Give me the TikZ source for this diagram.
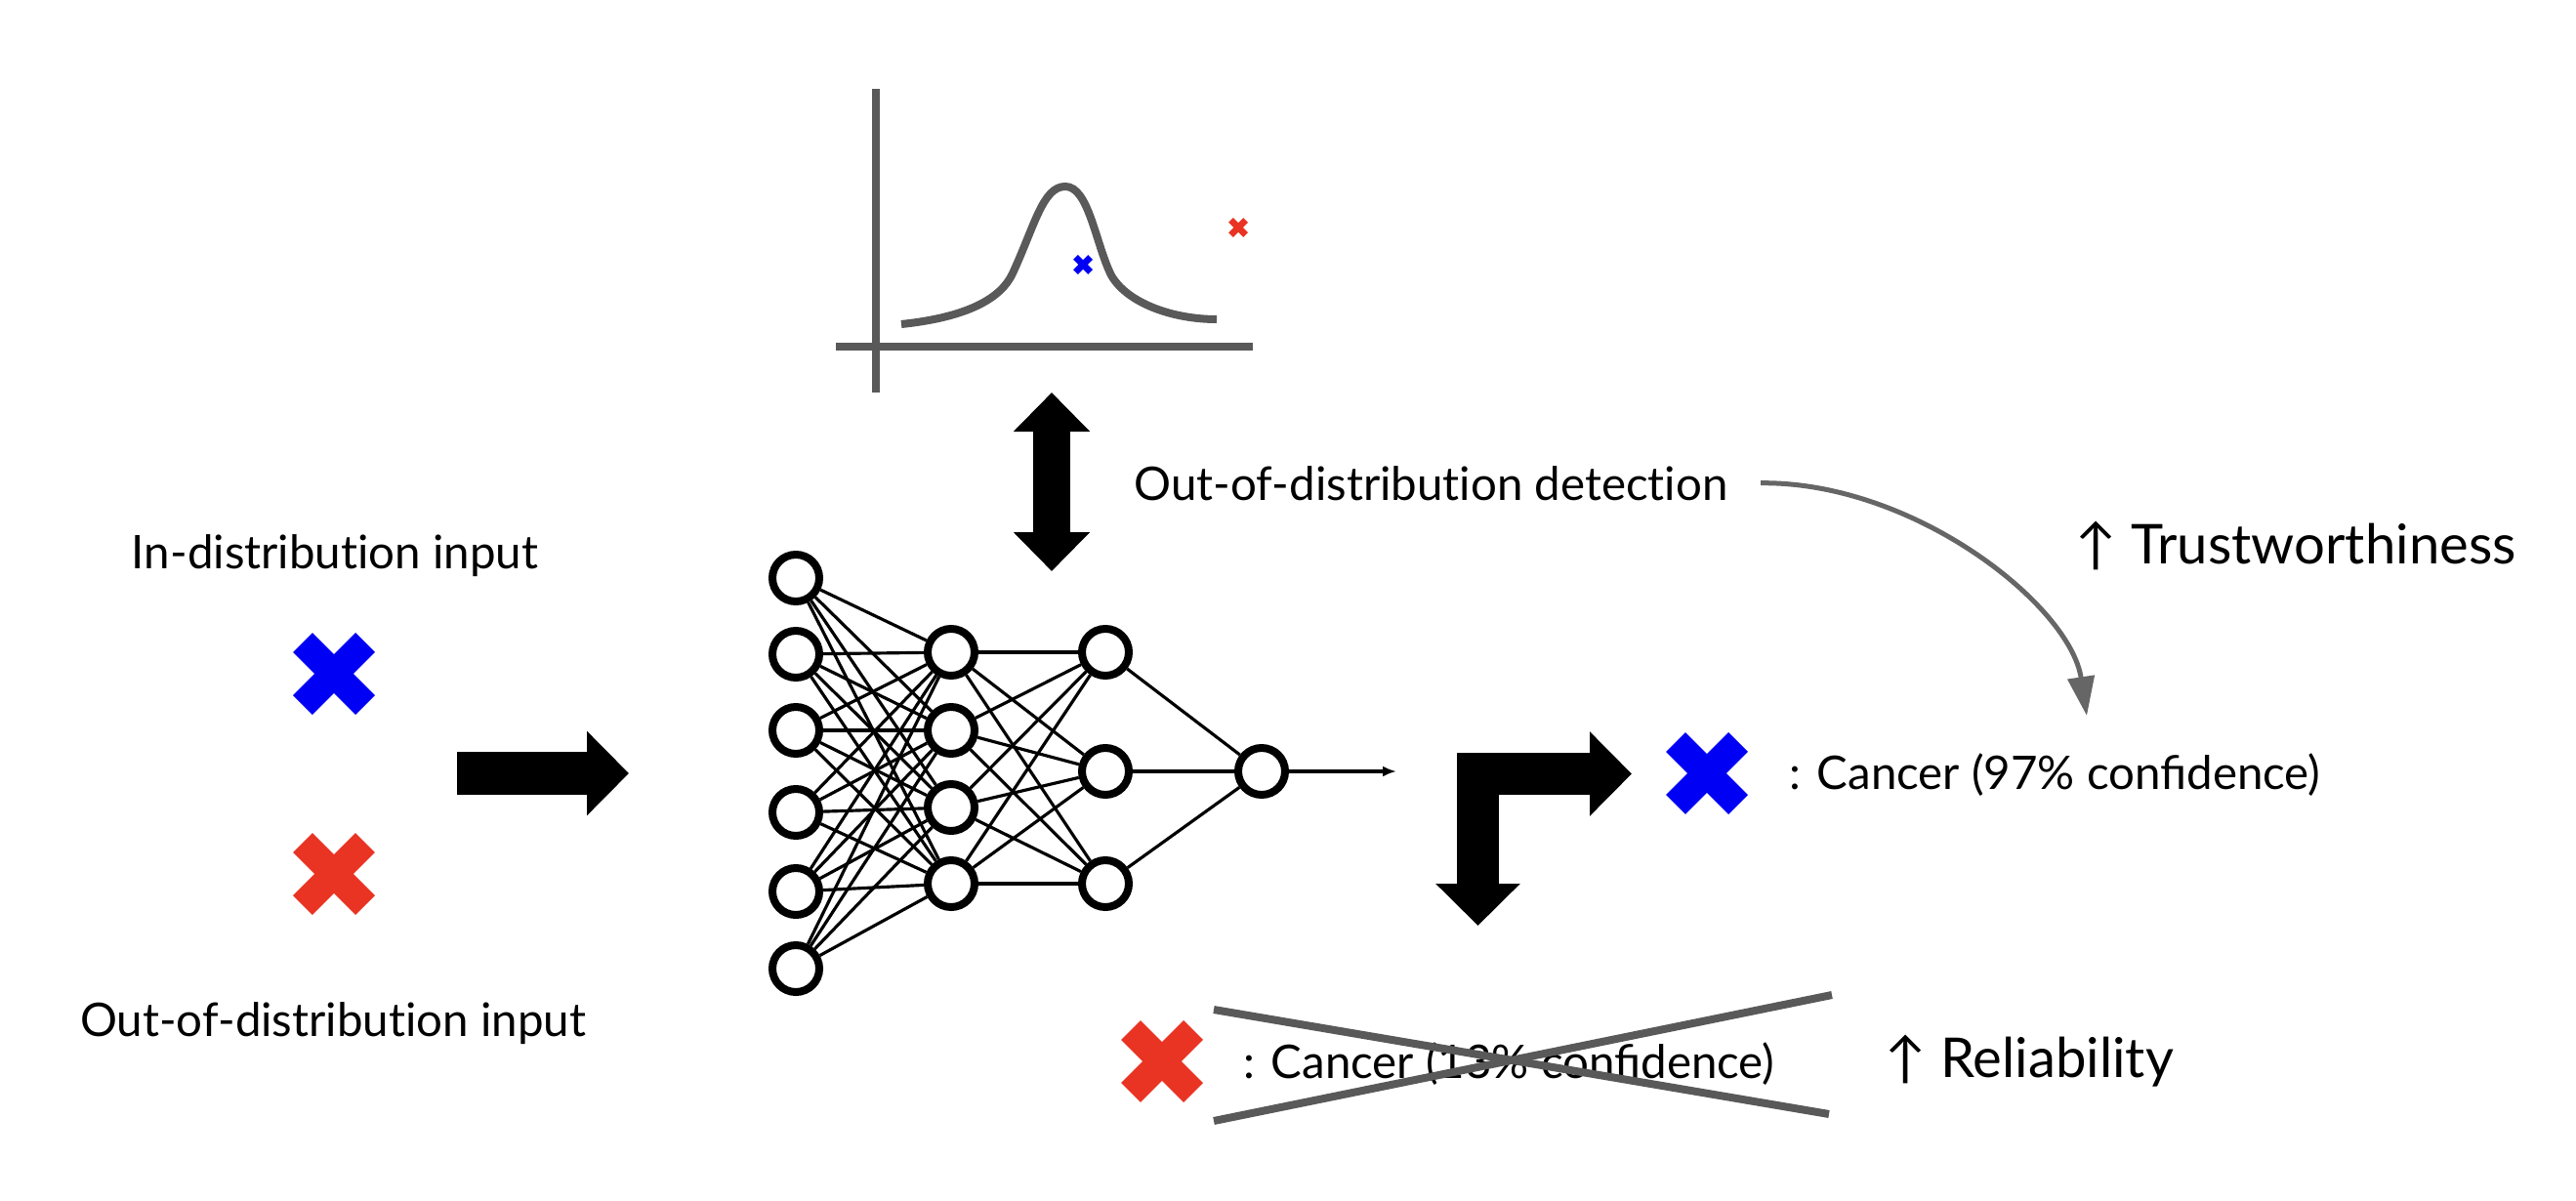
\documentclass[tikz,border=0pt]{standalone}
\usepackage{fontspec}
\setmainfont{Lato}
\usetikzlibrary{arrows.meta,shapes.misc}
\definecolor{xblue}{RGB}{0,0,245}
\definecolor{xred}{RGB}{233,52,36}
\definecolor{plotgray}{RGB}{89,89,89}
\definecolor{linkgray}{RGB}{102,102,102}
\newcommand{\gainarrow}{↑}
\newcommand{\nolig}{\kern0pt}

\tikzset{
  neuron/.style={circle, draw, line width=0.08cm, fill=white, minimum size=0.48cm, inner sep=0},
  synapse/.style={line width=0.9pt},
  bigcross/.style={cross out, line width=0.28cm, minimum size=0.64cm, inner sep=0, outer sep=0},
  smallcross/.style={cross out, line width=0.067cm, minimum size=0.152cm, inner sep=0, outer sep=0},
  blockarrow/.style={line width=0.44cm, -{Triangle[length=0.43cm, width=0.84cm]}},
  plotline/.style={draw=plotgray, line width=0.08cm},
  smalltext/.style={font=\fontsize{13.5}{16}\selectfont, inner sep=0},
  resulttext/.style={font=\fontsize{13.5}{16}\selectfont, inner sep=0},
  gaintext/.style={font=\fontsize{16}{19}\selectfont, inner sep=0}
}

\begin{document}
\begin{tikzpicture}
\useasboundingbox (0,0) rectangle (26.38,-12.30);

% inputs
\node[smalltext, anchor=base] (in-text) at (3.43,-5.82) {In-distribut\nolig ion input};
\node[bigcross, draw=xblue] (in-x) at (3.42,-6.90) {};
\node[bigcross, draw=xred] (ood-x) at (3.42,-8.95) {};
\node[smalltext, anchor=base] (ood-text) at (3.41,-10.61) {Out-of-distribut\nolig ion input};

\coordinate (feed-start) at (4.68,-7.92);
\coordinate (feed-end) at (6.44,-7.92);
\draw[blockarrow] (feed-start) -- (feed-end);

% network
\node[neuron] (l1-1) at (8.15,-5.92) {};
\node[neuron] (l1-2) at (8.15,-6.70) {};
\node[neuron] (l1-3) at (8.15,-7.48) {};
\node[neuron] (l1-4) at (8.15,-8.32) {};
\node[neuron] (l1-5) at (8.15,-9.13) {};
\node[neuron] (l1-6) at (8.15,-9.92) {};
\node[neuron] (l2-1) at (9.74,-6.68) {};
\node[neuron] (l2-2) at (9.74,-7.48) {};
\node[neuron] (l2-3) at (9.74,-8.27) {};
\node[neuron] (l2-4) at (9.74,-9.05) {};
\node[neuron] (l3-1) at (11.32,-6.68) {};
\node[neuron] (l3-2) at (11.32,-7.90) {};
\node[neuron] (l3-3) at (11.32,-9.05) {};
\node[neuron] (l4-1) at (12.92,-7.90) {};
\coordinate (nn-out) at (14.30,-7.90);

\foreach \i in {1,...,6}
  \foreach \j in {1,...,4}
    \draw[synapse] (l1-\i) -- (l2-\j);
\foreach \i in {1,...,4}
  \foreach \j in {1,...,3}
    \draw[synapse] (l2-\i) -- (l3-\j);
\foreach \i in {1,...,3}
  \draw[synapse] (l3-\i) -- (l4-1);
\draw[synapse, -{Latex[length=0.14cm, width=0.11cm]}] (l4-1) -- (nn-out);

% density plot
\draw[plotline] (8.97,-0.91) -- (8.97,-4.02);
\draw[plotline] (8.56,-3.55) -- (12.83,-3.55);
\draw[plotline] (9.23,-3.32) .. controls (9.9,-3.25) and (10.25,-3.06) .. (10.37,-2.80)
  .. controls (10.6,-2.30) and (10.68,-1.91) .. (10.91,-1.91)
  .. controls (11.15,-1.91) and (11.22,-2.50) .. (11.38,-2.82)
  .. controls (11.54,-3.10) and (12.0,-3.27) .. (12.46,-3.27);
\node[smallcross, draw=xblue] (plot-in) at (11.09,-2.71) {};
\node[smallcross, draw=xred] (plot-ood) at (12.68,-2.33) {};

% detection
\coordinate (det-top) at (10.77,-4.02);
\coordinate (det-bottom) at (10.77,-5.85);
\draw[line width=0.38cm, {Triangle[length=0.40cm, width=0.76cm]}-{Triangle[length=0.40cm, width=0.76cm]}]
  (det-top) -- (det-bottom);
\node[smalltext, anchor=base west] (det-text) at (11.61,-5.12) {Out-of-distribut\nolig ion detect\nolig ion};

% outputs
\coordinate (split-down) at (15.135,-9.48);
\coordinate (split-right) at (16.71,-7.925);
\draw[line width=0.43cm, {Triangle[length=0.43cm, width=0.84cm]}-{Triangle[length=0.43cm, width=0.84cm]}]
  (split-down) |- (split-right);
\node[bigcross, draw=xblue] (out-in-x) at (17.48,-7.92) {};
\node[resulttext, anchor=base west] (out-in-text) at (18.32,-8.08) {: Cancer (97\% confidence)};
\node[bigcross, draw=xred] (out-ood-x) at (11.90,-10.87) {};
\node[resulttext, anchor=base west] (out-ood-text) at (12.73,-11.04) {: Cancer (13\% confidence)};
\draw[plotline] (12.43,-10.34) -- (18.73,-11.41);
\draw[plotline] (12.43,-11.48) -- (18.76,-10.19);

\node[gaintext, anchor=base west] (trust) at (21.25,-5.77) {\gainarrow\ Trustworthiness};
\node[gaintext, anchor=base west] (reliab) at (19.30,-11.03) {\gainarrow\ Reliability};

\coordinate (trust-end) at (21.37,-7.33);
\draw[draw=linkgray, line width=0.05cm, -{Triangle[length=0.40cm, width=0.27cm]}]
  ([xshift=0.33cm]det-text.east) .. controls (19.60,-4.93) and (21.20,-6.20) .. (trust-end);
\end{tikzpicture}
\end{document}
